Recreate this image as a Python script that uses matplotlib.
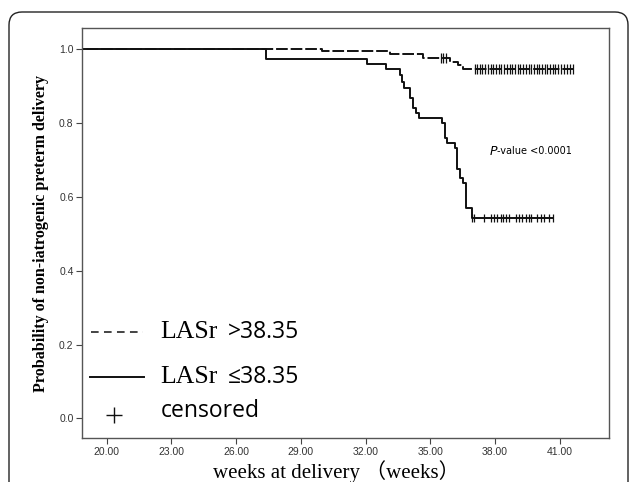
import matplotlib
matplotlib.use("Agg")
import matplotlib.pyplot as plt
from matplotlib.patches import FancyBboxPatch

# LASr > 38.35 (dashed)
hi_times = [30.0, 33.15, 34.65, 35.9, 36.3, 36.5]
hi_surv = [0.995, 0.988, 0.977, 0.967, 0.957, 0.948]
hi_end = 41.65
hi_cens = [35.48, 35.6, 35.72,
           37.06, 37.18, 37.3, 37.42, 37.55, 37.67, 37.8, 37.93, 38.05, 38.18,
           38.3, 38.43, 38.56, 38.68, 38.8, 38.93, 39.06, 39.18, 39.3, 39.43,
           39.56, 39.68, 39.8, 39.93, 40.06, 40.18, 40.3, 40.43, 40.56, 40.68,
           40.8, 40.93, 41.06, 41.2, 41.33, 41.47, 41.6]

# LASr <= 38.35 (solid)
lo_times = [27.37, 32.07, 32.95, 33.58, 33.7, 33.8, 34.08, 34.21, 34.36, 34.5,
            35.55, 35.68, 35.8, 36.13, 36.22, 36.37, 36.5, 36.65, 36.92]
lo_surv = [0.974, 0.960, 0.946, 0.930, 0.912, 0.894, 0.867, 0.840, 0.827, 0.813,
           0.800, 0.761, 0.745, 0.732, 0.677, 0.650, 0.637, 0.569, 0.542]
lo_end = 40.71
lo_cens = [36.95, 37.03, 37.49, 37.80, 37.96, 38.11, 38.27, 38.39, 38.53, 38.65,
           38.96, 39.11, 39.27, 39.42, 39.58, 39.69, 39.97, 40.12, 40.27, 40.51, 40.68]

xticks = [20, 23, 26, 29, 32, 35, 38, 41]
yticks = [0.0, 0.2, 0.4, 0.6, 0.8, 1.0]


def km_curve(times, surv, end):
    xs = [0.0] + times + [end]
    ys = [1.0] + surv + [surv[-1]]
    return xs, ys


def surv_at(times, surv, t):
    s = 1.0
    for ti, si in zip(times, surv):
        if ti <= t:
            s = si
    return s


fig = plt.figure(figsize=(6.3, 4.82), dpi=100)
ax = fig.add_axes([0.130, 0.0907, 0.837, 0.8506])

# outer rounded frame
frame = FancyBboxPatch((0.09, -0.3), 6.19, 5.0,
                       boxstyle="round,pad=0,rounding_size=0.13",
                       transform=fig.dpi_scale_trans, fill=False,
                       edgecolor="#222222", linewidth=1.0, zorder=0)
fig.patches.append(frame)

xs, ys = km_curve(lo_times, lo_surv, lo_end)
ax.step(xs, ys, where="post", color="#111111", lw=1.4)
ax.plot(lo_cens, [surv_at(lo_times, lo_surv, t) for t in lo_cens], ls="none",
        marker="|", ms=6, mew=0.9, color="#111111")

xs, ys = km_curve(hi_times, hi_surv, hi_end)
ax.step(xs, ys, where="post", color="#111111", lw=1.4, ls=(0, (6, 1.5)))
ax.plot(hi_cens, [surv_at(hi_times, hi_surv, t) for t in hi_cens], ls="none",
        marker="|", ms=7, mew=0.9, color="#111111")

ax.set_xlim(18.85, 43.3)
ax.set_ylim(-0.054, 1.057)
ax.set_xticks(xticks)
ax.set_xticklabels([f"{v:.2f}" for v in xticks])
ax.set_yticks(yticks)
ax.set_yticklabels([f"{v:.1f}" for v in yticks])
for lab in ax.get_xticklabels() + ax.get_yticklabels():
    lab.set_fontfamily("Liberation Sans")
    lab.set_fontsize(7.5)
    lab.set_color("#333333")
ax.tick_params(direction="out", length=4, width=0.8, color="#444444", pad=2)
for sp in ax.spines.values():
    sp.set_color("#555555")
    sp.set_linewidth(1.0)

ax.set_ylabel("Probability of non-iatrogenic preterm delivery",
              fontfamily="Liberation Serif", fontweight="bold", fontsize=11.5,
              labelpad=7)
fig.text(0.533, 0.008, "weeks at delivery （weeks）",
         family=["Liberation Serif", "Noto Sans CJK SC"], fontsize=15,
         ha="center", va="baseline")

ax.text(0.772, 0.70, "$\\it{P}$", transform=ax.transAxes, fontsize=9,
        family="Liberation Sans", va="center")
ax.text(0.788, 0.70, "-value <0.0001", transform=ax.transAxes, fontsize=7,
        family="Liberation Sans Narrow", va="center")

# custom legend
ax.plot([0.018, 0.115], [0.2585, 0.2585], transform=ax.transAxes,
        color="#111111", lw=1.1, ls=(0, (5, 3.5)))
ax.plot([0.015, 0.118], [0.150, 0.150], transform=ax.transAxes,
        color="#111111", lw=1.4)
ax.plot([0.060], [0.057], transform=ax.transAxes, marker="+", ms=11,
        mew=1.0, color="#111111")
ax.text(0.149, 0.259, "LASr", transform=ax.transAxes, fontsize=18.5,
        family="Liberation Serif", va="center")
ax.text(0.277, 0.259, ">38.35", transform=ax.transAxes, fontsize=16.5,
        family="Open Sans", va="center")
ax.text(0.149, 0.150, "LASr", transform=ax.transAxes, fontsize=18.5,
        family="Liberation Serif", va="center")
ax.text(0.277, 0.150, "≤38.35", transform=ax.transAxes, fontsize=16.5,
        family="Open Sans", va="center")
ax.text(0.149, 0.066, "censored", transform=ax.transAxes, fontsize=16.5,
        family="Open Sans", va="center")

fig.savefig("out.png", dpi=100)
